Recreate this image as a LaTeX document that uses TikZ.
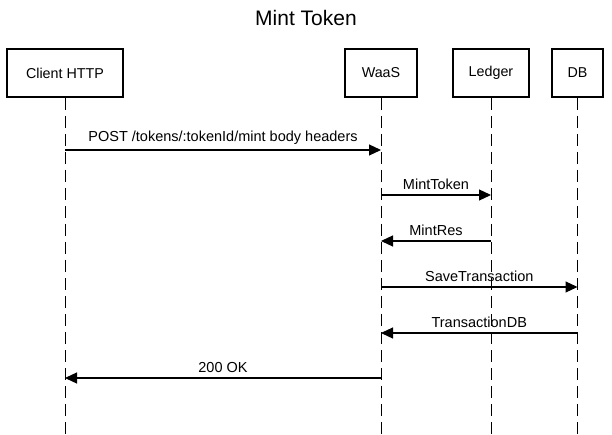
\documentclass[tikz,border=0pt]{standalone}
\usepackage{fontspec}
\setmainfont{Liberation Sans}
\usetikzlibrary{arrows.meta}

\begin{document}
\begin{tikzpicture}[x=1pt,y=-1pt,
    actor/.style={draw,line width=2pt,minimum height=48pt,inner sep=0pt,font=\fontsize{14.3}{16}\selectfont},
    lifeline/.style={line width=1pt,dash pattern=on 12pt off 6pt},
    msg/.style={line width=1.2pt,-{Triangle[length=12pt,width=11pt]}},
    lbl/.style={midway,above=1.5pt,font=\fontsize{14.5}{16}\selectfont}]

            \useasboundingbox (0,0) rectangle (612,435);

            \node[font=\fontsize{21}{24}\selectfont] (title) at (306,18) {Mint Token};

            \node[actor,minimum width=116pt] (client) at (65,73) {Client HTTP};
            \node[actor,minimum width=72pt] (waas) at (381,73) {WaaS};
            \node[actor,minimum width=76pt] (ledger) at (491,73) {Ledger};
            \node[actor,minimum width=51pt] (db) at (577.5,73) {DB};

            % lifelines
            \foreach \n in {client,waas,ledger,db}
              \draw[lifeline] (\n.south) -- (\n.south |- 0,435);

            % messages
            \draw[msg] (client |- 0,150) -- (waas |- 0,150) node[lbl]{POST /tokens/:tokenId/mint body headers};
            \draw[msg] (waas |- 0,195) -- (ledger |- 0,195) node[lbl]{MintToken};
            \draw[msg] (ledger |- 0,241) -- (waas |- 0,241) node[lbl]{MintRes};
            \draw[msg] (waas |- 0,287) -- (db |- 0,287) node[lbl]{SaveTransaction};
            \draw[msg] (db |- 0,333) -- (waas |- 0,333) node[lbl]{TransactionDB};
            \draw[msg] (waas |- 0,378) -- (client |- 0,378) node[lbl]{200 OK};
\end{tikzpicture}
\end{document}
